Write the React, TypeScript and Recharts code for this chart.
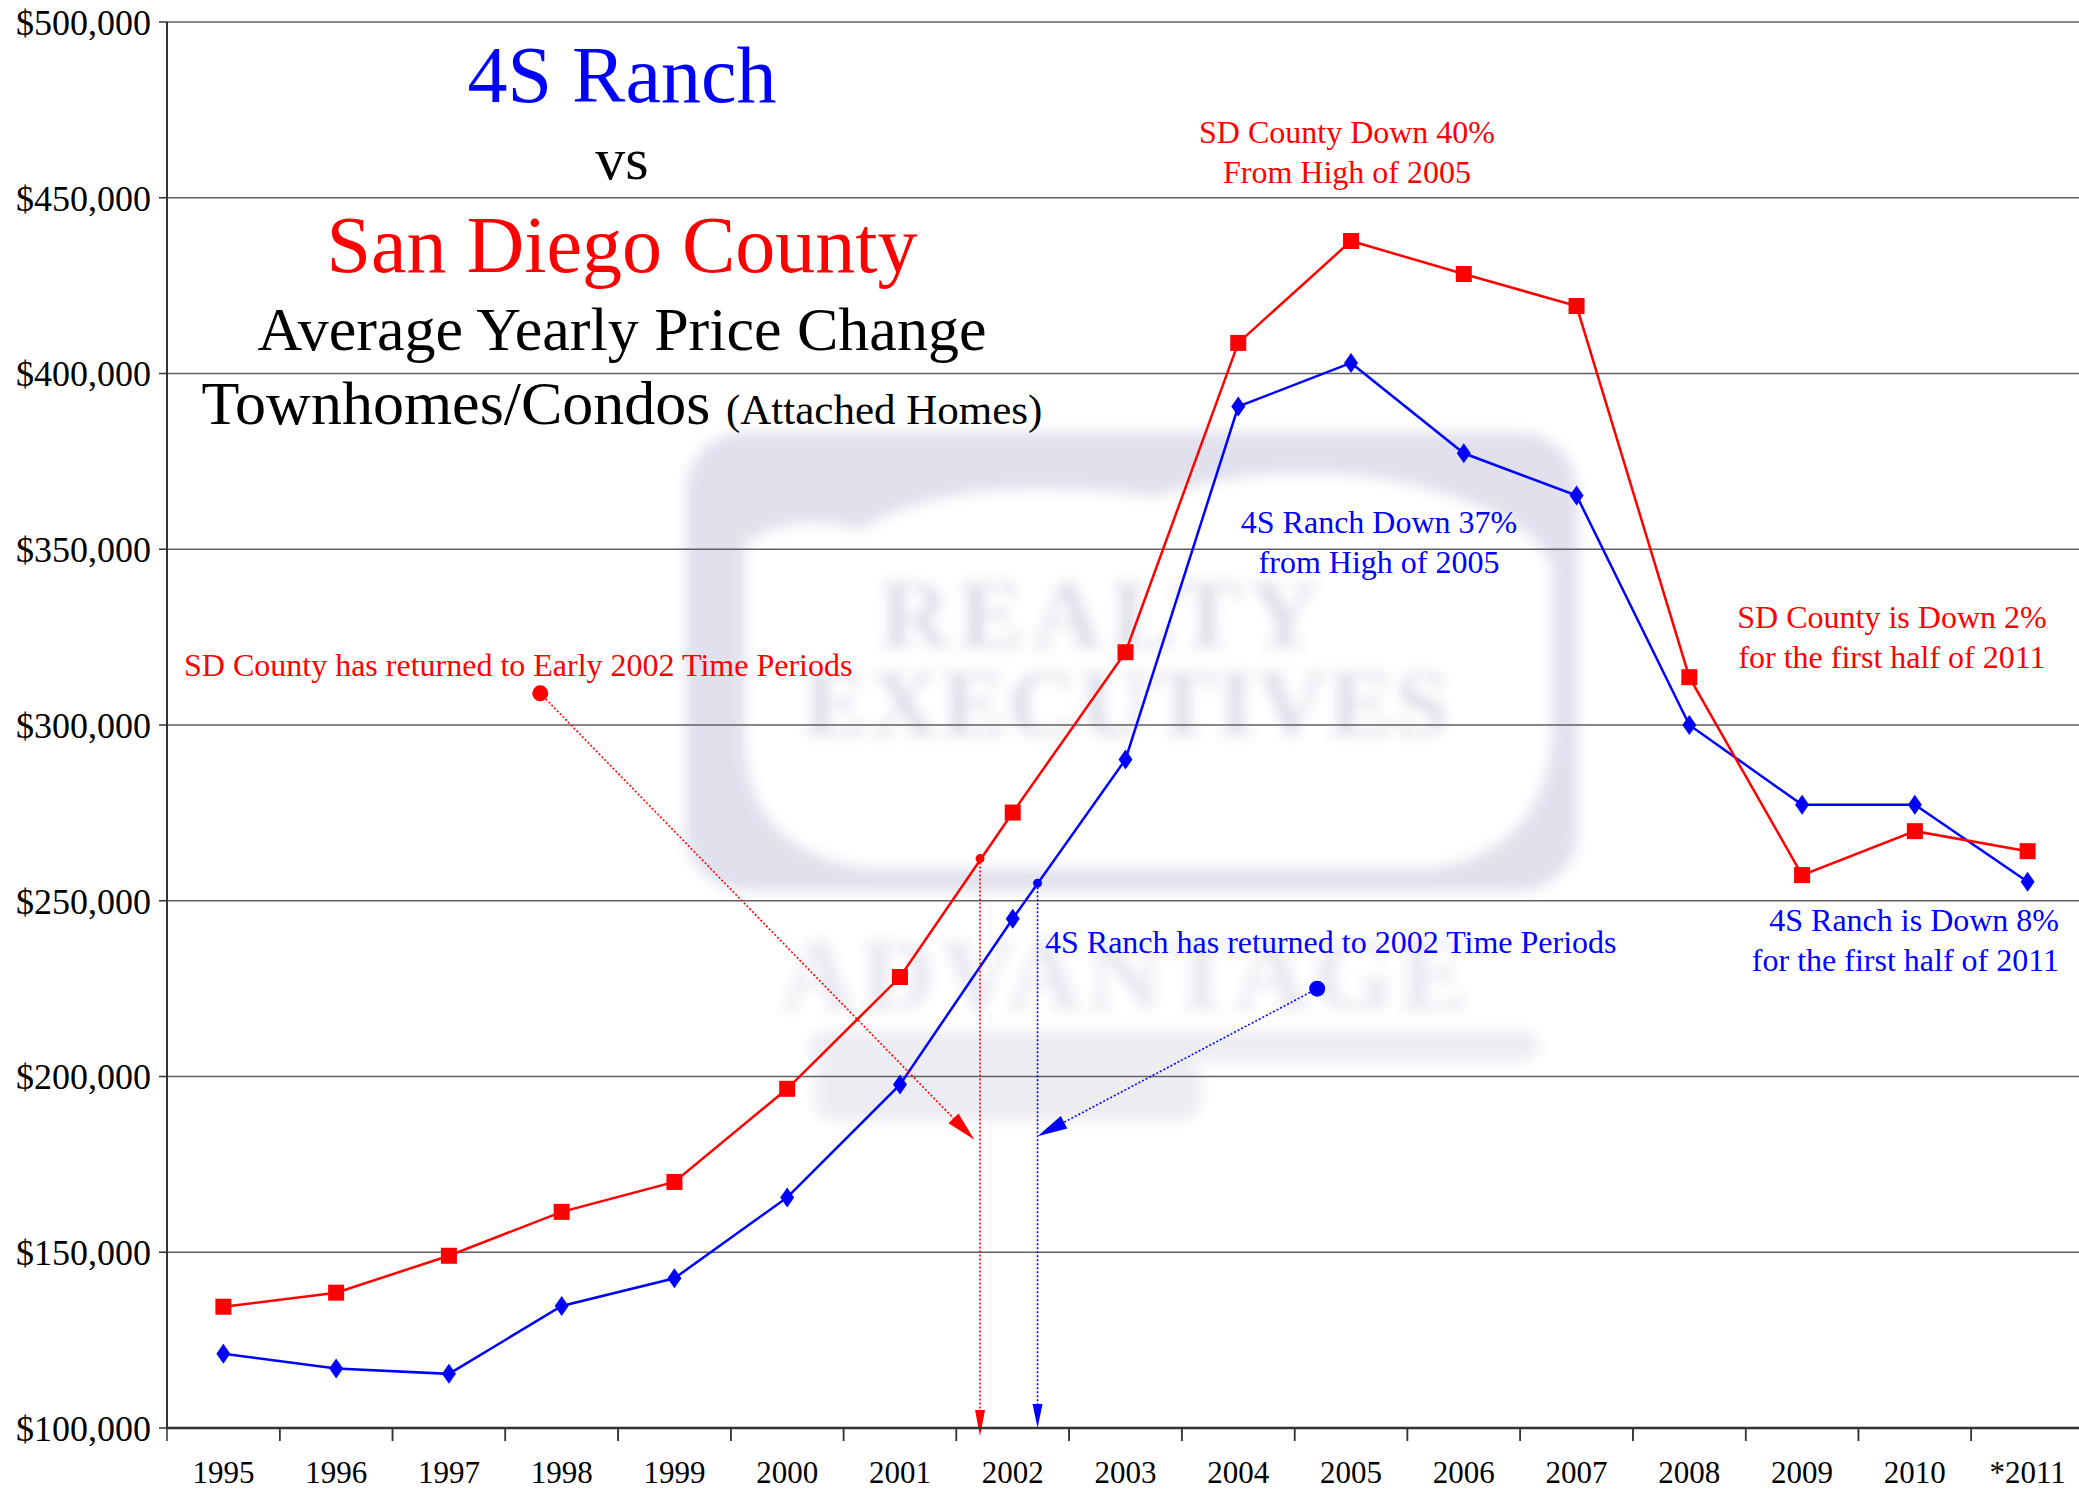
import { CartesianGrid, Line, LineChart, ReferenceDot, ReferenceLine, XAxis, YAxis } from "recharts"

const years = ["1995", "1996", "1997", "1998", "1999", "2000", "2001", "2002", "2003", "2004", "2005", "2006", "2007", "2008", "2009", "2010", "*2011"]
const sdCounty = [134500, 138500, 149000, 161500, 170000, 196500, 228300, 275100, 320700, 408700, 437700, 428300, 419200, 313600, 257300, 269800, 264100]
const fourSRanch = [121100, 116900, 115400, 134700, 142600, 165600, 197700, 244900, 290200, 390600, 403000, 377300, 365300, 300000, 277300, 277300, 255400]
const yTicks = [100000, 150000, 200000, 250000, 300000, 350000, 400000, 450000, 500000]

// callouts, in chart units (x = year index, y = price)
const sdCalloutStart = { x: 2.81, y: 309000 }
const sdCalloutEnd = { x: 6.66, y: 182000 }
const sdMarker = { x: 6.71, y: 262000 }
const sdFloor = 97700
const rsCalloutStart = { x: 9.7, y: 225000 }
const rsCalloutEnd = { x: 7.22, y: 183000 }
const rsMarker = { x: 7.22, y: 255000 }
const rsFloor = 100000

const data = years.map((year, i) => ({ i, year, sd: sdCounty[i], rs: fourSRanch[i] }))

const FONT = '"Liberation Serif", "Times New Roman", serif'
const RED = "#ff0000"
const BLUE = "#0000ff"
const LAV = "#e1e1ee"

const CHART_W = 2084
const CHART_H = 1491
const Y_AXIS_W = 167
const X_AXIS_H = 63
const BAND = (CHART_W - Y_AXIS_W) / years.length

const YearTick = (props: any) => {
  const { x, y, payload } = props
  return (
    <g>
      <line x1={x - BAND / 2} y1={y} x2={x - BAND / 2} y2={y + 13} stroke="#333" strokeWidth={1.5} />
      <line x1={x + BAND / 2} y1={y} x2={x + BAND / 2} y2={y + 13} stroke="#333" strokeWidth={1.5} />
      <text x={x} y={y + 55} textAnchor="middle" fontFamily={FONT} fontSize={31} fill="#000">
        {years[payload.value]}
      </text>
    </g>
  )
}

const SquareDot = (props: any) => {
  const { cx, cy, index } = props
  if (cx == null || cy == null) return <g key={index} />
  return <rect key={index} x={cx - 8} y={cy - 8} width={16} height={16} fill={RED} />
}

const DiamondDot = (props: any) => {
  const { cx, cy, index } = props
  if (cx == null || cy == null) return <g key={index} />
  return <polygon key={index} points={`${cx},${cy - 10} ${cx + 7},${cy} ${cx},${cy + 10} ${cx - 7},${cy}`} fill={BLUE} />
}

const arrow = (color: string, head: number, half: number) => (props: any) => {
  const { x1, y1, x2, y2 } = props
  const a = Math.atan2(y2 - y1, x2 - x1)
  const bx = x2 - head * Math.cos(a)
  const by = y2 - head * Math.sin(a)
  const px = -Math.sin(a) * half
  const py = Math.cos(a) * half
  return (
    <g>
      <line x1={x1} y1={y1} x2={bx} y2={by} stroke={color} strokeWidth={1.6} strokeDasharray="2 2" />
      <polygon points={`${x2},${y2} ${bx + px},${by + py} ${bx - px},${by - py}`} fill={color} />
    </g>
  )
}

const Watermark = () => (
  <svg width={2079} height={1491} style={{ position: "absolute", left: 0, top: 0 }}>
    <defs>
      <filter id="soft" x="-10%" y="-10%" width="120%" height="120%">
        <feGaussianBlur stdDeviation="5" />
      </filter>
    </defs>
    <g transform="scale(1.326)" filter="url(#soft)">
      <rect x={517} y={326} width={673} height={346} rx={45} fill={LAV} />
      <path
        d="M562,410 Q600,385 648,400 Q720,355 870,375 Q1000,335 1118,383 Q1160,400 1170,428 L1170,560 Q1160,645 1075,655 L660,655 Q565,645 562,560 Z"
        fill="#ffffff"
      />
      <text x={832} y={488} textAnchor="middle" fontFamily={FONT} fontWeight="bold" fontSize={74} fill="#dcdce9" letterSpacing={6}>
        REALTY
      </text>
      <text x={850} y={555} textAnchor="middle" fontFamily={FONT} fontWeight="bold" fontSize={72} fill="#dcdce9" letterSpacing={2}>
        EXECUTIVES
      </text>
      <text x={850} y={762} textAnchor="middle" fontFamily={FONT} fontWeight="bold" fontSize={78} fill="#e6e6f0" letterSpacing={4}>
        ADVANTAGE
      </text>
      <rect x={610} y={778} width={550} height={22} rx={10} fill="#ececf3" />
      <rect x={615} y={800} width={290} height={45} rx={12} fill="#ececf3" />
    </g>
  </svg>
)

const Titles = () => (
  <svg width={2079} height={1491} style={{ position: "absolute", left: 0, top: 0, pointerEvents: "none" }} fontFamily={FONT}>
    <text x={622} y={102} textAnchor="middle" fontSize={80} fill={BLUE}>4S Ranch</text>
    <text x={622} y={179} textAnchor="middle" fontSize={60} fill="#000">vs</text>
    <text x={622} y={272} textAnchor="middle" fontSize={80} fill={RED}>San Diego County</text>
    <text x={622} y={350} textAnchor="middle" fontSize={62} fill="#000">Average Yearly Price Change</text>
    <text x={622} y={424} textAnchor="middle" fill="#000">
      <tspan fontSize={62}>Townhomes/Condos </tspan>
      <tspan fontSize={43}>(Attached Homes)</tspan>
    </text>

    <g fontSize={32}>
      <text x={1347} y={143} textAnchor="middle" fill={RED}>SD County Down 40%</text>
      <text x={1347} y={183} textAnchor="middle" fill={RED}>From High of 2005</text>
      <text x={1379} y={533} textAnchor="middle" fill={BLUE}>4S Ranch Down 37%</text>
      <text x={1379} y={573} textAnchor="middle" fill={BLUE}>from High of 2005</text>
      <text x={1892} y={628} textAnchor="middle" fill={RED}>SD County is Down 2%</text>
      <text x={1892} y={668} textAnchor="middle" fill={RED}>for the first half of 2011</text>
      <text x={2059} y={931} textAnchor="end" fill={BLUE}>4S Ranch is Down 8%</text>
      <text x={2059} y={971} textAnchor="end" fill={BLUE}>for the first half of 2011</text>
      <text x={184} y={676} fill={RED}>SD County has returned to Early 2002 Time Periods</text>
      <text x={1045} y={953} fill={BLUE}>4S Ranch has returned to 2002 Time Periods</text>
    </g>
  </svg>
)

const App = () => {
  return (
    <div style={{ position: "absolute", left: 0, top: 0, width: 2079, height: 1491, overflow: "hidden", background: "#fff" }}>
      <Watermark />
      <div style={{ position: "absolute", left: 0, top: 0 }}>
        <LineChart width={CHART_W} height={CHART_H} data={data} margin={{ top: 22, right: 0, bottom: 0, left: 0 }}>
          <CartesianGrid vertical={false} stroke="#606060" strokeWidth={1.5} />
          <XAxis
            type="number"
            dataKey="i"
            domain={[-0.5, 16.5]}
            ticks={data.map((d) => d.i)}
            interval={0}
            height={X_AXIS_H}
            tickLine={false}
            tickSize={0}
            tickMargin={0}
            tick={<YearTick />}
            axisLine={{ stroke: "#333", strokeWidth: 2.5 }}
          />
          <YAxis
            domain={[100000, 500000]}
            ticks={yTicks}
            width={Y_AXIS_W}
            tickFormatter={(v: number) => `$${v.toLocaleString("en-US")}`}
            tick={{ fontFamily: FONT, fontSize: 36, fill: "#000" }}
            tickLine={{ stroke: "#333", strokeWidth: 1.5 }}
            tickSize={8}
            tickMargin={8}
            axisLine={{ stroke: "#333", strokeWidth: 2 }}
          />
          <Line dataKey="rs" stroke={BLUE} strokeWidth={2.5} dot={DiamondDot} activeDot={false} isAnimationActive={false} />
          <Line dataKey="sd" stroke={RED} strokeWidth={2.5} dot={SquareDot} activeDot={false} isAnimationActive={false} />

          <ReferenceLine segment={[sdCalloutStart, sdCalloutEnd]} ifOverflow="visible" shape={arrow(RED, 30, 7)} />
          <ReferenceLine segment={[sdMarker, { x: sdMarker.x, y: sdFloor }]} ifOverflow="visible" shape={arrow(RED, 26, 5)} />
          <ReferenceLine segment={[rsCalloutStart, rsCalloutEnd]} ifOverflow="visible" shape={arrow(BLUE, 30, 7)} />
          <ReferenceLine segment={[rsMarker, { x: rsMarker.x, y: rsFloor }]} ifOverflow="visible" shape={arrow(BLUE, 24, 5)} />

          <ReferenceDot x={sdCalloutStart.x} y={sdCalloutStart.y} r={8} fill={RED} stroke="none" ifOverflow="visible" />
          <ReferenceDot x={sdMarker.x} y={sdMarker.y} r={4.5} fill={RED} stroke="none" ifOverflow="visible" />
          <ReferenceDot x={rsCalloutStart.x} y={rsCalloutStart.y} r={8} fill={BLUE} stroke="none" ifOverflow="visible" />
          <ReferenceDot x={rsMarker.x} y={rsMarker.y} r={4.5} fill={BLUE} stroke="none" ifOverflow="visible" />
        </LineChart>
      </div>
      <Titles />
    </div>
  )
}

export default App
